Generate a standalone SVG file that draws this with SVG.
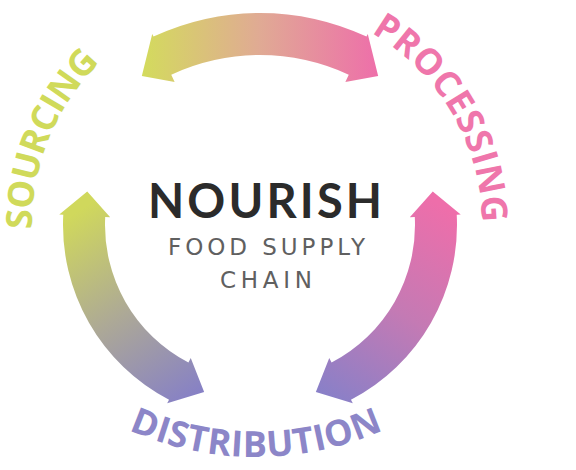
<svg xmlns="http://www.w3.org/2000/svg" xmlns:xlink="http://www.w3.org/1999/xlink" width="576" height="470" viewBox="0 0 576 470">
  <style>
    .stage { font-family: "Open Sans", "Liberation Sans", sans-serif; font-weight: 700; font-size: 36px; }
    .title { font-family: Lato, "Liberation Sans", sans-serif; font-weight: 700; font-size: 47px; fill: #2b2b2b; }
    .sub { font-family: "DejaVu Sans", "Liberation Sans", sans-serif; font-weight: 400; font-size: 23px; fill: #606060; }
  </style>
  <defs>
    <linearGradient id="gTop" gradientUnits="userSpaceOnUse" x1="140" y1="0" x2="380" y2="0">
      <stop offset="0" stop-color="#d3dc5c"/>
      <stop offset="0.5" stop-color="#e0aa94"/>
      <stop offset="1" stop-color="#ee6eaa"/>
    </linearGradient>
    <linearGradient id="gLeft" gradientUnits="userSpaceOnUse" x1="80" y1="210" x2="200" y2="395">
      <stop offset="0" stop-color="#d0d85c"/>
      <stop offset="0.5" stop-color="#ada996"/>
      <stop offset="1" stop-color="#8680c6"/>
    </linearGradient>
    <linearGradient id="gRight" gradientUnits="userSpaceOnUse" x1="440" y1="205" x2="320" y2="395">
      <stop offset="0" stop-color="#ee6eaa"/>
      <stop offset="0.5" stop-color="#c47ab4"/>
      <stop offset="1" stop-color="#8880c8"/>
    </linearGradient>
    <path id="pSourcing" d="M 58.32 331.33 A 228 228 0 0 1 190.30 7.92"/>
    <path id="pProcessing" d="M 297.40 6.17 A 222 222 0 0 1 469.01 299.84"/>
    <path id="pDistribution" d="M 15.46 344.84 A 314 314 0 0 0 496.54 344.84"/>
  </defs>
  <rect width="576" height="470" fill="#ffffff"/>

  <g id="connectors">
    <path id="arrow-top" fill="url(#gTop)" d="M 141.83 75.88 L 152.23 33.89 L 153.50 36.61 A 252 252 0 0 1 366.50 36.61 L 367.77 33.89 L 378.17 75.88 L 345.37 81.93 L 348.75 74.67 A 210 210 0 0 0 171.25 74.67 L 174.63 81.93 Z"/>
    <path id="arrow-left" fill="url(#gLeft)" d="M 87.23 191.42 L 59.28 214.48 L 63.27 214.69 A 197 197 0 0 0 169.04 399.74 L 167.19 403.29 L 204.15 391.90 L 190.74 358.05 L 188.43 362.49 A 155 155 0 0 1 105.21 216.89 L 110.21 217.15 Z"/>
    <path id="arrow-right" fill="url(#gRight)" d="M 432.77 191.42 L 460.72 214.48 L 456.73 214.69 A 197 197 0 0 1 350.96 399.74 L 352.81 403.29 L 315.85 391.90 L 329.26 358.05 L 331.57 362.49 A 155 155 0 0 0 414.79 216.89 L 409.79 217.15 Z"/>
  </g>

  <g id="node-sourcing">
    <text class="stage" fill="#d0da5a" text-anchor="middle"><textPath xlink:href="#pSourcing" href="#pSourcing" startOffset="50%" textLength="185" lengthAdjust="spacing">SOURCING</textPath></text>
  </g>
  <g id="node-processing">
    <text class="stage" fill="#ef76ab" text-anchor="middle"><textPath xlink:href="#pProcessing" href="#pProcessing" startOffset="50%" textLength="230" lengthAdjust="spacing">PROCESSING</textPath></text>
  </g>
  <g id="node-distribution">
    <text class="stage" fill="#8c86c8" text-anchor="middle"><textPath xlink:href="#pDistribution" href="#pDistribution" startOffset="50%" textLength="262" lengthAdjust="spacing">DISTRIBUTION</textPath></text>
  </g>
  <g id="node-center">
    <text class="title" x="265" y="218" text-anchor="middle" textLength="234" lengthAdjust="spacing">NOURISH</text>
    <text class="sub" x="266.5" y="255" text-anchor="middle" textLength="197" lengthAdjust="spacing">FOOD SUPPLY</text>
    <text class="sub" x="266" y="288" text-anchor="middle" textLength="92" lengthAdjust="spacing">CHAIN</text>
  </g>
</svg>
